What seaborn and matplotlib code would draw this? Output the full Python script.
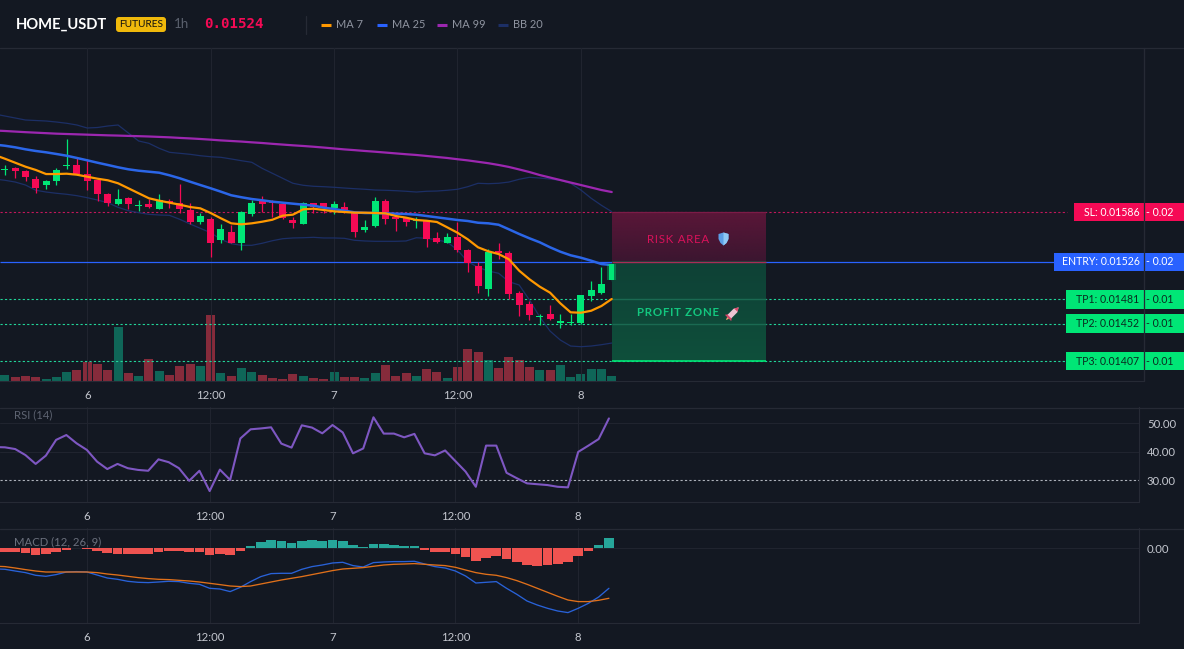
import numpy as np
import matplotlib
matplotlib.use("Agg")
import matplotlib.pyplot as plt
import seaborn as sns
from matplotlib.lines import Line2D
from matplotlib.patches import FancyBboxPatch, PathPatch, Rectangle
from matplotlib.path import Path
from matplotlib.transforms import Affine2D, blended_transform_factory

# Hourly bars, hour 0 being the start of day 6. Prices in 1e-6 USDT.
hours = np.arange(-8, 52)
# Indicators carry one extra earlier bar that runs off the left edge.
line_hours = np.arange(-9, 52)

candle_open = [16365,16392,16353,16256,16184,16232,16413,16425,
    16316,16244,16076,15956,16028,15932,15956,15896,15992,15965,
    15884,15740,15776,15524,15620,15488,15836,16004,15992,15956,
    15764,15716,15968,15968,15912,15924,15844,15644,15692,15989,
    15804,15784,15752,15755,15548,15491,15556,15404,15211,14935,
    15391,15367,14883,14755,14595,14635,14523,14523,14523,14851,14883,15043]
candle_high = [16425,16398,16365,16292,16244,16392,16737,16524,
    16493,16256,16088,16136,16040,16004,16016,16076,16013,16196,
    15965,15844,15804,15716,15704,15876,16004,16052,16004,15965,
    15800,15980,15974,15974,15992,15980,15854,15764,16037,16013,
    15824,15804,15804,15764,15620,15604,15743,15412,15263,15412,
    15491,15391,14915,14794,14635,14743,14635,14635,14863,15028,15199,15260]
candle_low = [16304,16272,16232,16092,16136,16184,16380,16304,
    16124,15992,15932,15940,15896,15876,15904,15892,15908,15848,
    15712,15712,15316,15491,15482,15404,15812,15860,15800,15776,
    15668,15710,15848,15844,15836,15844,15563,15620,15683,15716,
    15632,15692,15671,15443,15491,15484,15383,15143,14891,14851,
    15295,14811,14614,14563,14499,14568,14470,14503,14520,14794,14875,15030]
candle_close = [16377,16356,16280,16148,16232,16365,16428,16316,
    16232,16076,15965,16016,15956,15944,15916,16001,15965,15896,
    15740,15812,15488,15656,15488,15860,15968,15956,15968,15784,
    15728,15965,15926,15912,15956,15876,15616,15676,15992,15776,
    15776,15740,15767,15536,15500,15556,15404,15247,14971,15379,
    15367,14875,14743,14623,14611,14575,14547,14539,14859,14923,14995,15240]

ma7 = [16545,16500,16452,16404,16365,16316,16316,16320,16308,
    16284,16260,16241,16205,16145,16085,16025,15996,15972,15948,
    15920,15904,15848,15784,15724,15712,15724,15743,15767,15816,
    15828,15892,15900,15884,15868,15860,15852,15852,15848,15844,
    15812,15792,15764,15755,15740,15676,15611,15532,15436,15388,
    15355,15292,15155,15052,14963,14891,14763,14655,14650,14674,14731,14815]
ma25 = [16670,16656,16637,16613,16593,16577,16557,16536,16509,
    16481,16452,16425,16397,16373,16356,16344,16332,16301,16265,
    16224,16184,16145,16104,16061,16037,16016,16001,15984,15972,
    15960,15948,15936,15912,15896,15876,15856,15848,15848,15844,
    15840,15836,15828,15812,15796,15780,15764,15752,15731,15724,
    15707,15652,15596,15544,15496,15436,15383,15340,15311,15275,15235,15223]
ma99 = [16839,16833,16826,16819,16813,16807,16801,16797,16793,
    16789,16785,16781,16778,16774,16771,16767,16762,16757,16750,
    16744,16737,16729,16720,16713,16706,16697,16689,16679,16670,
    16661,16653,16644,16634,16623,16612,16603,16593,16584,16574,
    16564,16554,16545,16533,16521,16509,16494,16480,16463,16446,
    16425,16401,16371,16340,16304,16274,16244,16214,16184,16154,16124,16100]
bb_upper = [17037,17013,16989,16965,16959,16953,16941,16926,16905,
    16869,16875,16893,16905,16809,16713,16685,16625,16577,16565,
    16553,16536,16524,16517,16497,16476,16457,16385,16325,16265,
    16205,16181,16169,16164,16157,16148,16140,16133,16124,16121,
    16116,16109,16100,16109,16112,16121,16133,16164,16205,16200,
    16205,16220,16253,16277,16268,16256,16241,16205,16124,16025,15940,15864]
bb_lower = [16256,16241,16220,16184,16121,16100,16085,16073,16056,
    16032,16004,15972,15916,15876,15852,15832,15824,15820,15772,
    15716,15664,15611,15532,15479,15460,15460,15484,15515,15539,
    15548,15551,15556,15548,15548,15544,15520,15512,15508,15508,
    15508,15512,15551,15544,15524,15500,15404,15263,15196,15151,
    15124,15023,14983,14803,14599,14430,14322,14250,14242,14250,14266,14286]

# Volume, thousands of contracts.
volume = [6,4,5.3,4,2,4,9,11,
    19,17,11,54,8,5,22,10,6,15,
    17,15,66,8,5,13,9,6,3,2,
    7,5,3,2,9,4,4,3,8,16,
    5,8,5,12,9,3,14,32,29,21,
    13,24,21,14,11,11,16,4,7,12,12,5]

rsi = [41.7,41.6,41.0,38.9,35.8,38.7,44.2,45.9,43.0,
    40.7,36.6,34.0,35.8,34.3,33.7,33.4,37.4,36.4,34.3,
    29.9,33.4,26.3,33.8,30.2,44.7,47.9,48.2,48.6,42.9,
    41.5,49.3,48.5,46.5,49.4,46.8,39.5,41.2,52.1,46.4,
    46.4,45.1,46.3,39.5,38.8,40.5,36.8,33.1,27.8,42.2,
    42.2,32.7,30.8,29.0,28.7,28.4,27.8,27.6,40.0,42.2,44.5,51.7]

# MACD figures, in 1e-5 USDT.
macd_hist = [-3.3,-3.3,-4.3,-6.7,-5.3,-3.3,-1.3,0.5,
    -0.7,-2.3,-5,-5.7,-5.7,-5.7,-5.7,-3.3,-2.7,-2.7,
    -3.3,-3.3,-6.7,-5.7,-6.7,-2.7,2.3,6,8.3,7,
    5,7.3,8.3,7.3,8.3,7.3,3.3,1.3,4.3,4.3,
    3.3,2.3,2.3,-1.7,-3.7,-3.7,-5.7,-8.7,-12.7,-9.7,
    -7.7,-10.7,-13.7,-16.7,-17.7,-16.7,-15.7,-13.7,-7.7,-2.7,3.3,10.3]
macd_line = [-20.5,-21,-22.7,-24.3,-27,-28,-26.3,-23.7,-23.3,
    -23.7,-26.7,-29.7,-31,-33,-34,-34.3,-33.7,-33,-33.3,
    -35,-36,-40,-40.7,-43.3,-39,-33.3,-28.3,-25.3,-25,
    -25,-21,-18.3,-16.7,-14.7,-14,-17.3,-18.7,-14.3,-13.7,
    -13.3,-13.3,-13,-15.7,-18.3,-19.7,-22.7,-27.7,-34.7,-34,
    -33.3,-40,-46,-52.7,-56.7,-60,-62.7,-64.3,-60,-55,-48.7,-40]
macd_signal = [-17.9,-18.3,-19.7,-21.3,-22.7,-23.7,-23.7,-23.7,-23.7,
    -23.7,-24.3,-25.7,-26.7,-28,-29.3,-30.3,-31,-31.3,-32,
    -32.7,-33.7,-35,-36.3,-37.7,-38.3,-37.7,-35.7,-33.7,-31.7,
    -30,-28.3,-26.3,-24.3,-22.3,-20.7,-20,-19.3,-18,-16.7,
    -16,-15.7,-15.3,-16,-16.7,-17.3,-19,-21.7,-24.3,-26,
    -27,-29.3,-32.3,-36,-40,-44,-48,-51.7,-53.3,-53.3,-52,-50]

tick_hours = [0, 12, 24, 36, 48]
tick_labels = ["6", "12:00", "7", "12:00", "8"]

last_price = 0.01524
sl_price = 0.01586
entry_price = 0.01526
tp_prices = [0.01481, 0.01452, 0.01407]
tp_sizes = ["0.01", "0.01", "0.01"]
rsi_ticks = [50, 40, 30]

PRICE = 1e-6
MACD = 1e-5

BG = "#131822"
GRID = "#20242f"
BORDER = "#262a35"
UP = "#00e676"
DOWN = "#f50a55"
VOL_UP = "#0f6658"
VOL_DOWN = "#862b3b"
ORANGE = "#ff9800"
BLUE = "#2962ff"
PURPLE = "#9c27b0"
NAVY = "#1c2f66"
TICK = "#c3c6ce"
FONT = "Lato"

sns.set_theme(style="dark", rc={"axes.facecolor": BG, "figure.facecolor": BG})
plt.rcParams["font.family"] = [FONT, "DejaVu Sans"]

W, H = 1184, 649
fig = plt.figure(figsize=(W / 100, H / 100), dpi=100, facecolor=BG)
px = Affine2D().scale(1, -1).translate(0, H)


def pane(top, bottom, right):
    return fig.add_axes([0, 1 - bottom / H, right / W, (bottom - top) / H])


ax_vol = pane(48, 381, 1144)
ax = pane(48, 381, 1144)
ax_rsi = pane(407, 502, 1138.7)
ax_macd = pane(528, 623, 1138.7)
ax_vol.set_zorder(1)
ax.set_zorder(2)
ax.patch.set_visible(False)

x_range = (-8.48, 102.75)
for a in (ax_vol, ax, ax_rsi, ax_macd):
    a.set_xlim(*x_range)
    a.set_xticks(tick_hours)
    a.set_xticklabels(tick_labels)
    a.tick_params(axis="x", length=0, pad=6.5, labelsize=8.2, labelcolor=TICK)
    for side in ("top", "left"):
        a.spines[side].set_visible(False)
    a.spines["bottom"].set_color(BORDER)
    a.spines["right"].set_color(BORDER)
    a.spines["bottom"].set_linewidth(0.8)
    a.spines["right"].set_linewidth(0.8)
    a.grid(False)
    for h in tick_hours:
        a.axvline(h, color=GRID, lw=0.8, zorder=0)
ax.spines["bottom"].set_visible(False)
ax.spines["right"].set_visible(False)
ax.tick_params(axis="x", labelbottom=False)

# Volume sits on its own scale behind the candles.
is_up = np.array(candle_close) >= np.array(candle_open)
ax_vol.set_ylim(0, 333)
ax_vol.set_yticks([])
ax_vol.bar(hours, volume, width=0.88, color=[VOL_UP if u else VOL_DOWN for u in is_up], linewidth=0)

# Price pane
ax.set_ylim(0.013830, 0.017830)
ax.set_yticks([])
opens = np.array(candle_open) * PRICE
closes = np.array(candle_close) * PRICE
highs = np.array(candle_high) * PRICE
lows = np.array(candle_low) * PRICE
colors = [UP if u else DOWN for u in is_up]

ax.hlines(sl_price, x_range[0], 95.25, color="#c2175a", lw=0.8, ls=(0, (2, 2)), zorder=1)
ax.hlines(entry_price, x_range[0], 94, color=BLUE, lw=0.9, zorder=1)
for tp in tp_prices:
    ax.hlines(tp, x_range[0], 95.2, color="#22d69a", lw=0.8, ls=(0, (2, 2)), zorder=1)

ax.vlines(hours, lows, highs, colors=colors, lw=0.9, zorder=3)
ax.bar(hours[:-1], np.maximum(np.abs(closes - opens), 1.6e-5)[:-1], bottom=np.minimum(opens, closes)[:-1],
       width=0.68, color=colors[:-1], linewidth=0, zorder=3)
# Soft halo on the live candle
ax.bar(hours[-1], closes[-1] - opens[-1], bottom=opens[-1], width=0.85, color=UP, alpha=0.35,
       linewidth=0, zorder=5)
ax.bar(hours[-1], closes[-1] - opens[-1], bottom=opens[-1], width=0.5, color=UP, linewidth=0, zorder=5)

for values, color, width, z in [
    (bb_upper, NAVY, 0.9, 2), (bb_lower, NAVY, 0.9, 2),
    (ma99, PURPLE, 1.6, 4), (ma25, "#2b66e8", 1.8, 4), (ma7, ORANGE, 1.6, 4),
]:
    sns.lineplot(x=line_hours, y=np.array(values) * PRICE, ax=ax, color=color, lw=width,
                 zorder=z, legend=False, errorbar=None)
ax.set_xlabel("")
ax.set_ylabel("")


def gradient(top, bottom, c_top, c_bottom):
    """Vertical colour ramp between two prices across the trade box."""
    a, b = np.array(matplotlib.colors.to_rgb(c_top)), np.array(matplotlib.colors.to_rgb(c_bottom))
    ramp = np.linspace(0, 1, 64)[:, None, None] * (b - a) + a
    ax.imshow(ramp, extent=[51.05, 66, bottom, top], aspect="auto", zorder=3.5,
              interpolation="bilinear")


gradient(sl_price, entry_price, "#5a1638", "#3b1630")
gradient(entry_price, tp_prices[2], "#0f4136", "#0e4f3b")
ax.set_xlim(*x_range)
ax.set_ylim(0.013830, 0.017830)
ax.hlines(sl_price, 51.05, 66, color="#7c1b47", lw=0.9, zorder=3.6)
ax.hlines(entry_price, 51.05, 66, color="#a92c57", lw=1.0, zorder=3.6)
for tp in tp_prices[:2]:
    ax.hlines(tp, 51.05, 66, color="#1a6a52", lw=1.0, zorder=3.6)
ax.hlines(tp_prices[2], 51.05, 66, color=UP, lw=1.2, zorder=3.6)

ax.text(57.4, 0.01553, "R\u200aI\u200aS\u200aK\u200a \u200aA\u200aR\u200aE\u200aA", color="#d9125a", fontsize=8.3,
        ha="center", va="center", zorder=6)
ax.text(57.4, 0.01465, "P\u200aR\u200aO\u200aF\u200aI\u200aT\u200a \u200aZ\u200aO\u200aN\u200aE", color="#13c77f", fontsize=8.3,
        ha="center", va="center", zorder=6, fontweight="bold")


def icon(verts, color, cx, cy, angle=0):
    patch = PathPatch(Path(verts + [verts[0]], closed=True), facecolor=color, edgecolor="none",
                      transform=Affine2D().rotate_deg(angle).translate(cx, cy) + px, zorder=11)
    fig.add_artist(patch)


# Shield beside the risk label
icon([(-5, -5), (0, -6.5), (5, -5), (5, 0), (3, 4), (0, 6.5), (-3, 4), (-5, 0)], "#5c9fe6", 723.5, 239)
icon([(0, -6.5), (5, -5), (5, 0), (3, 4), (0, 6.5)], "#8fc9f5", 723.5, 239)
# Rocket beside the profit label
icon([(-2.2, 4), (-4.5, 7), (4.5, 7), (2.2, 4)], "#d8436a", 733, 313, 45)
icon([(-1.3, 7), (0, 10), (1.3, 7)], "#f7a072", 733, 313, 45)
icon([(0, -8), (2.6, -3.5), (2.6, 5), (-2.6, 5), (-2.6, -3.5)], "#eec3d2", 733, 313, 45)
icon([(0, -8), (2.4, -4), (-2.4, -4)], "#dc4a6c", 733, 313, 45)

# Price tags on the right edge
tag_tf = blended_transform_factory(px, ax.transData)
half = 9.2 * 12.013e-6
tags = [
    (sl_price, 1074, f"SL: {sl_price:.5f}", "0.02", DOWN, "white"),
    (entry_price, 1054, f"ENTRY: {entry_price:.5f}", "0.02", BLUE, "white"),
] + [
    (p, 1066, f"TP{i + 1}: {p:.5f}", s, UP, "#0a2b20")
    for i, (p, s) in enumerate(zip(tp_prices, tp_sizes))
]
for price, left, label, size, face, ink in tags:
    fig.add_artist(Rectangle((left, price - half), W - left, 2 * half, transform=tag_tf,
                             facecolor=face, edgecolor="none", zorder=10))
    fig.text(1139.5, price, label, transform=tag_tf, color=ink, fontsize=7.6, ha="right", va="center", zorder=11)
    fig.text(1146, price, f"- {size}", transform=tag_tf, color=ink, fontsize=7.6, ha="left", va="center", zorder=11)
fig.add_artist(Line2D([1144, 1144], [48, 381], transform=px, color=BORDER, lw=0.9, zorder=12))

# RSI pane
sns.lineplot(x=line_hours, y=rsi, ax=ax_rsi, color="#7e57c2", lw=1.5, zorder=3, legend=False, errorbar=None)
ax_rsi.set_ylim(22.48, 55.7)
ax_rsi.set_xlabel("")
ax_rsi.set_ylabel("")
ax_rsi.yaxis.tick_right()
ax_rsi.set_yticks(rsi_ticks)
ax_rsi.set_yticklabels([f"{t:.2f}" for t in rsi_ticks])
ax_rsi.tick_params(axis="y", length=0, pad=6, labelsize=8.2, labelcolor=TICK)
for level in rsi_ticks[:2]:
    ax_rsi.axhline(level, color=GRID, lw=0.8, zorder=0)
ax_rsi.axhline(rsi_ticks[2], color="#aeb2bb", lw=0.8, ls=(0, (2, 2)), zorder=1)
ax_rsi.text(-7.1, 53.1, "RSI (14)", color="#5d6371", fontsize=8.2, ha="left", va="center")

# MACD pane
hist = np.array(macd_hist) * MACD
ax_macd.bar(hours, hist, width=0.94, linewidth=0, zorder=2,
            color=["#26a69a" if v > 0 else "#ef5350" for v in hist])
sns.lineplot(x=line_hours, y=np.array(macd_line) * MACD, ax=ax_macd, color="#2962d8", lw=0.95, zorder=3,
             legend=False, errorbar=None)
sns.lineplot(x=line_hours, y=np.array(macd_signal) * MACD, ax=ax_macd, color="#e0701a", lw=0.95, zorder=3,
             legend=False, errorbar=None)
ax_macd.set_ylim(-74.7 * MACD, 20.3 * MACD)
ax_macd.set_xlim(*x_range)
ax_rsi.set_xlim(*x_range)
ax.set_xlim(*x_range)
ax_macd.set_xlabel("")
ax_macd.set_ylabel("")
ax_macd.yaxis.tick_right()
ax_macd.set_yticks([0])
ax_macd.set_yticklabels(["0.00"])
ax_macd.tick_params(axis="y", length=0, pad=6, labelsize=8.2, labelcolor=TICK)
ax_macd.axhline(0, color=GRID, lw=0.8, zorder=0)
ax_macd.text(-7.1, 6.3 * MACD, "MACD (12, 26, 9)", color="#6a6f7c", fontsize=8.2, ha="left", va="center", zorder=5)

# Full-width rules between panes
for y in (48, 407.5, 528.5):
    fig.add_artist(Line2D([0, W], [y, y], transform=px, color=BORDER, lw=0.9))

# Header strip
fig.text(16, 24.5, "HOME_USDT", transform=px, color="white", fontsize=10.6, fontweight="bold", va="center")
fig.add_artist(FancyBboxPatch((117, 18), 48, 13, boxstyle="round,pad=1,rounding_size=3", transform=px,
                              facecolor="#f0b90b", edgecolor="none", zorder=2))
fig.text(141, 24.5, "FUTURES", transform=px, color="#101010", fontsize=7.3, ha="center", va="center", zorder=3)
fig.text(174, 24.5, "1h", transform=px, color="#5a606d", fontsize=9.6, va="center")
fig.text(204, 24.5, f"{last_price:.5f}", transform=px, color=DOWN, fontsize=10.2, fontweight="bold",
         family="DejaVu Sans Mono", va="center")
fig.add_artist(Line2D([305.5, 305.5], [16, 34], transform=px, color=BORDER, lw=0.9))
for x0, text, color in [(321, "MA 7", ORANGE), (377, "MA 25", BLUE), (437, "MA 99", PURPLE), (498, "BB 20", NAVY)]:
    fig.add_artist(Line2D([x0, x0 + 10], [24.5, 24.5], transform=px, color=color, lw=2.2, solid_capstyle="butt"))
    fig.text(x0 + 15, 24.5, text, transform=px, color="#8f94a0", fontsize=7.9, va="center")

fig.savefig("out.png", dpi=100, facecolor=BG)
